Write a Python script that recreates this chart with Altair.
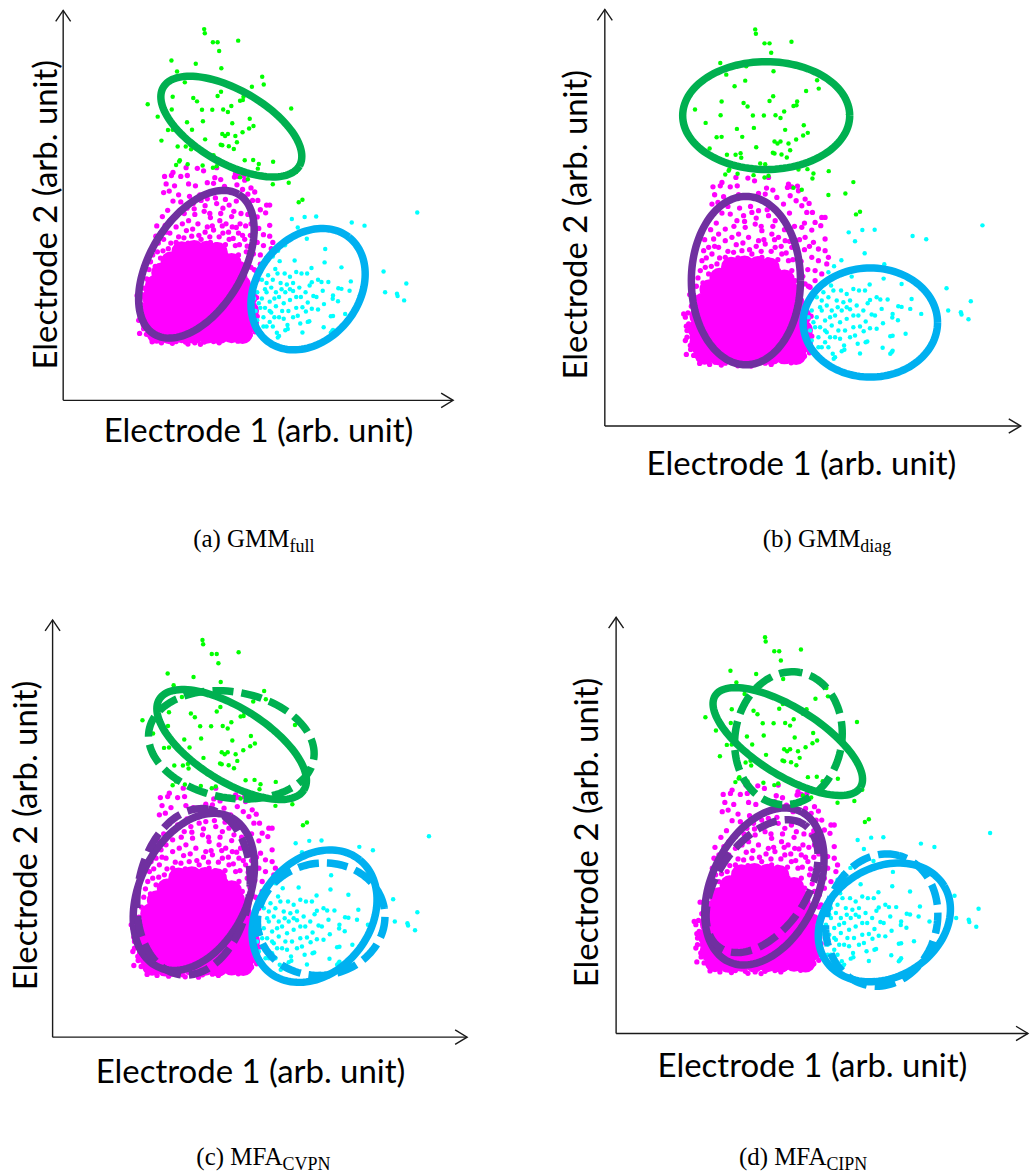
import math
import altair as alt
import pandas as pd

# ---------------- data (arbitrary units; arrows run 0..X_END / 0..Y_END) ----------------
X_END = 1250
Y_END = 1252

green_pts = [(452,1192),(454,1179),(480,1150),(495,1150),(561,1155),(500,1122),(347,1091),(365,1056),
             (507,1066),(422,1038),(390,1021),(638,1039),(643,1014),(605,1007),(351,975),(417,971),
             (429,960),(495,977),(506,991),(567,962),(578,975),(576,964),(271,951),(348,934),(445,933),
             (478,933),(513,934),(528,926),(539,945),(303,911),(598,904),(397,893),(448,896),(542,890),
             (336,868),(351,869),(413,869),(610,881),(596,873),(575,861),(510,855),(519,849),(528,855),
             (552,849),(315,834),(455,838),(557,829),(367,815),(393,815),(408,820),(410,806),(505,821),
             (510,819),(531,816),(547,807),(467,789),(482,787),(374,771),(372,767),(362,756),(399,758),
             (447,754),(480,747),(492,752),(582,771),(609,772),(627,759),(624,744),(673,766),(747,733),
             (723,699),(672,694),(592,710),(767,644),(755,636),(425,1081),(731,937),(567,716)]

cyan_pts = [(1135,603),(733,582),(774,589),(811,590),(925,571),(966,561),(752,555),(781,519),(711,498),
            (840,486),(689,480),(742,449),(796,425),(838,443),(892,427),(1027,414),(1100,375),(1032,347),
            (1070,342),(1072,335),(1093,321),(951,337),(922,382),(918,352),(882,360),(892,358),(865,337),
            (864,326),(881,318),(904,277),(865,271),(858,270),(836,309),(817,292),(797,294),(778,285),
            (835,235),(865,226),(858,217),(767,218),(789,254),(760,247),(752,272),(719,242),(712,225),
            (692,207),(685,217),(828,380),(850,380),(817,387),(797,379),(790,369),(802,335),(812,332),
            (832,352),(784,314),(767,299),(762,332),(747,332),(737,351),(727,322),(722,287),(702,287),
            (677,267),(662,252),(652,237),(710,407),(727,397),(747,412),(764,407),(782,407),(717,372),
            (737,377),(757,362),(700,357),(687,407),(672,387),(652,377),(647,357),(637,327),(632,297),
            (647,297),(662,317),(677,327),(692,332),(707,312),(682,302),(667,282),(642,267),(627,312),
            (622,347),(637,387),(657,402),(680,422),(694,447),(672,462),(652,347),(667,362),(682,347),
            (697,377),(712,347),(727,357),(662,287),(692,267),(707,262),(737,267),(747,297),(777,347),
            (612,327),(617,287),(622,257),(642,237),(672,237),(720,229),(784,252),(862,222),(688,202)]

magenta_sparse = [(325,719),(347,722),(377,719),(398,722),(430,745),(450,737),(486,715),(492,747),(505,709),
                  (549,717),(562,719),(579,721),(602,682),(614,669),(330,695),(340,672),(322,667),(357,689),
                  (402,695),(424,689),(462,699),(482,697),(517,687),(537,667),(557,692),(575,677),(592,662),
                  (624,642),(632,612),(652,627),(662,627),(649,602),(622,589),(602,567),(627,552),(642,532),
                  (662,527),(672,507),(667,487),(642,497),(622,507),(632,467),(652,457),(632,437),(617,417),
                  (602,427),(622,387),(662,562),(592,597),(607,642),(377,637),(397,617),(417,632),(442,642),
                  (462,647),(492,632),(512,617),(532,627),(547,607),(422,597),(452,607),(472,587),(502,577),
                  (522,567),(542,557),(562,537),(362,592),(342,577),(327,562),(312,537),(297,527),(292,497),
                  (287,467),(302,477),(322,517),(342,537),(362,557),(382,567),(402,577),(432,567),(462,557),
                  (482,547),(512,537),(532,517),(552,497),(562,467),(547,447),(522,467),(502,487),(472,507),
                  (442,517),(412,527),(387,522),(362,507),(337,487),(312,457),(392,487),(422,477),(462,472),
                  (492,457),(522,437),(567,567),(582,517),(587,477),(572,437),(237,337),(242,327),(252,307),
                  (247,287),(262,267),(242,257),(257,242),(272,227),(267,212),(282,202),(302,197),(247,267),
                  (262,297),(272,327),(332,192),(362,189),(392,187),(422,185),(452,187),(482,189),(512,195),
                  (542,199),(572,207),(592,227),(602,267),(607,297),(587,367),(592,337),(602,317),(582,397),
                  (352,732),(394,747),(552,727),(582,707),
                  (300,560),(318,590),(335,610),(352,640),(370,660),(388,600),(405,655),(420,615),(438,660),
                  (455,625),(470,600),(488,650),(505,600),(520,645),(540,590),(555,640),(570,600),(585,560),
                  (600,610),(615,540),(295,430),(305,505),(320,480),(330,540),(345,505),(355,470),(370,525),
                  (375,490),(395,545),(400,505),(415,550),(425,500),(435,530),(450,490),(455,540),(470,525),
                  (478,560),(490,500),(500,525),(510,560),(520,500),(530,540),(545,520),(555,555),(565,500),
                  (575,530),(590,495),(600,530),(610,470),(595,450),(612,420),(615,380),(605,350),(620,330),
                  (610,300),(622,270),(612,240),(600,210),(260,360),(268,390),(275,420),(280,445),(255,395),
                  (250,340),(245,300),(258,230),(245,215),(285,188),(315,185),(350,183),(400,181),(440,180),
                  (500,185),(560,190),(590,200),(615,220)]

magenta_core = [(300,215),(340,213),(380,216),(420,214),(460,215),(500,213),(540,216),(575,214),
                (285,250),(325,252),(365,249),(405,251),(445,250),(485,252),(525,249),(565,251),(595,250),
                (280,290),(320,291),(360,289),(400,290),(440,292),(480,289),(520,291),(560,290),(595,288),
                (285,330),(325,329),(365,331),(405,330),(445,328),(485,331),(525,330),(565,329),(590,331),
                (295,370),(335,372),(375,369),(415,371),(455,370),(495,368),(535,371),(570,370),
                (315,410),(355,409),(395,411),(435,410),(475,412),(515,409),(550,411),
                (345,445),(385,447),(425,444),(465,446),(505,445),(540,440),
                (380,478),(420,482),(460,480),(495,476)]

# ellipses: (panel, cluster, dashed, cx, cy, semi-axis a, semi-axis b, angle deg)
ellipses = [
    ("a", "green", 0, 539, 879, 252, 117, -30), ("a", "purple", 0, 427, 437, 262, 148, 59),
    ("a", "blue", 0, 785, 357, 212, 163, 52),
    ("b", "green", 0, 485, 933, 251, 162, 0), ("b", "purple", 0, 424, 437, 164, 253, 0),
    ("b", "blue", 0, 798, 311, 202, 164, 0),
    ("c", "green", 0, 540, 878, 257, 110, -32), ("c", "green", 1, 539, 877, 252, 159, -10),
    ("c", "purple", 0, 426, 436, 250, 163, 64), ("c", "purple", 1, 425, 436, 252, 168, 80),
    ("c", "blue", 0, 790, 363, 217, 167, 51), ("c", "blue", 1, 810, 354, 193, 168, 10),
    ("d", "green", 0, 521, 878, 260, 101, -32), ("d", "green", 1, 523, 888, 201, 162, 80),
    ("d", "purple", 0, 450, 442, 251, 160, 64), ("d", "purple", 1, 443, 443, 225, 135, 55),
    ("d", "blue", 0, 814, 334, 212, 165, 31), ("d", "blue", 1, 806, 341, 201, 168, 75),
]

captions = {"a": ("(a) GMM", "full"), "b": ("(b) GMM", "diag"),
            "c": ("(c) MFA", "CVPN"), "d": ("(d) MFA", "CIPN")}
AXIS_X_TITLE = "Electrode 1 (arb. unit)"
AXIS_Y_TITLE = "Electrode 2 (arb. unit)"

# ---------------- layout (page pixels) ----------------
LAYOUT = {
    "a": dict(frame=(0, 0, 560, 590), origin=(63.3, 400.0), xend=454.0, yend=9.3,
              ytitle=(56.7, 214), xtitle=(259, 442), cap=(290, 547)),
    "b": dict(frame=(560, 0, 471, 590), origin=(606.0, 425.7), xend=1022.7, yend=8.3,
              ytitle=(588.0, 224), xtitle=(803, 475), cap=(862, 547)),
    "c": dict(frame=(0, 590, 560, 585), origin=(52.7, 1038.0), xend=468.0, yend=620.0,
              ytitle=(36.7, 836), xtitle=(251, 1084), cap=(283, 1166)),
    "d": dict(frame=(560, 590, 471, 585), origin=(617.3, 1034.3), xend=1030.0, yend=617.3,
              ytitle=(599.3, 833), xtitle=(814, 1078), cap=(828, 1166)),
}
COLORS = alt.Scale(domain=["green", "purple", "blue"], range=["#00B050", "#7030A0", "#00B0F0"])
SANS = "Lato"
SERIF = "Liberation Serif"
AXIS_COLOR = "#1a1a1a"


def pts_df(pts):
    return pd.DataFrame({"x": [p[0] for p in pts], "y": [p[1] for p in pts]})


def ellipse_df(key):
    rows = []
    for j, (pk, cl, dashed, cx, cy, a, b, ang) in enumerate(ellipses):
        if pk != key:
            continue
        phi = math.radians(ang)
        for k in range(0, 361, 3):
            t = math.radians(k)
            x = cx + a * math.cos(t) * math.cos(phi) - b * math.sin(t) * math.sin(phi)
            y = cy + a * math.cos(t) * math.sin(phi) + b * math.sin(t) * math.cos(phi)
            rows.append({"id": j, "cluster": cl, "dashed": dashed, "i": k, "x": x, "y": y})
    return pd.DataFrame(rows)


def panel(key):
    g = LAYOUT[key]
    fx, fy, fw, fh = g["frame"]
    ox, oy = g["origin"]
    kx = X_END / (g["xend"] - ox)
    ky = Y_END / (oy - g["yend"])
    lx, ly = ox - fx, oy - fy
    xs = alt.Scale(domain=[-lx * kx, (fw - lx) * kx], nice=False, zero=False)
    ys = alt.Scale(domain=[-(fh - ly) * ky, ly * ky], nice=False, zero=False)
    X = lambda f="x": alt.X(f, type="quantitative", scale=xs, axis=None)
    Y = lambda f="y": alt.Y(f, type="quantitative", scale=ys, axis=None)

    def dots(pts, color, size):
        return alt.Chart(pts_df(pts)).mark_circle(size=size, color=color, opacity=1).encode(x=X(), y=Y())

    layers = [dots(magenta_core, "#FF00FF", 420), dots(magenta_sparse, "#FF00FF", 28),
              dots(cyan_pts, "#00FFFF", 20), dots(green_pts, "#00FF00", 20)]

    edf = ellipse_df(key)
    for dashed in (0, 1):
        sub = edf[edf["dashed"] == dashed]
        if len(sub) == 0:
            continue
        mk = dict(strokeWidth=7.5)
        if dashed:
            mk["strokeDash"] = [21, 8]
        layers.append(alt.Chart(sub).mark_line(**mk).encode(
            x=X(), y=Y(), detail="id:N", order=alt.Order("i:Q"),
            color=alt.Color("cluster:N", scale=COLORS, legend=None)))

    axes = pd.DataFrame({"x": [0, 0], "y": [0, 0], "x2": [X_END, 0], "y2": [0, Y_END]})
    layers.append(alt.Chart(axes).mark_rule(color=AXIS_COLOR, strokeWidth=1.4).encode(
        x=X(), y=Y(), x2="x2:Q", y2="y2:Q"))
    layers.append(alt.Chart(pd.DataFrame({"x": [X_END], "y": [0]})).mark_point(
        shape="M-1,-0.6L0,0L-1,0.6", size=576, filled=False, color=AXIS_COLOR, strokeWidth=1.4,
        opacity=1).encode(x=X(), y=Y()))
    layers.append(alt.Chart(pd.DataFrame({"x": [0], "y": [Y_END]})).mark_point(
        shape="M-0.68,1L0,0L0.68,1", size=484, filled=False, color=AXIS_COLOR, strokeWidth=1.4,
        opacity=1).encode(x=X(), y=Y()))

    # axis titles
    xt = pd.DataFrame({"x": [(g["xtitle"][0] - ox) * kx], "y": [-(g["xtitle"][1] - oy) * ky],
                       "t": [AXIS_X_TITLE]})
    layers.append(alt.Chart(xt).mark_text(font=SANS, fontSize=33, align="center",
                                          baseline="alphabetic", color="black").encode(
        x=X(), y=Y(), text="t:N"))
    yt = pd.DataFrame({"x": [(g["ytitle"][0] - ox) * kx], "y": [(oy - g["ytitle"][1]) * ky],
                       "t": [AXIS_Y_TITLE]})
    layers.append(alt.Chart(yt).mark_text(font=SANS, fontSize=33, align="center", angle=270,
                                          baseline="alphabetic", color="black").encode(
        x=X(), y=Y(), text="t:N"))

    # caption with subscript
    main, sub = captions[key]
    cx_, cb = g["cap"]
    cm = pd.DataFrame({"x": [(cx_ - ox) * kx], "y": [-(cb - oy) * ky], "t": [main]})
    layers.append(alt.Chart(cm).mark_text(font=SERIF, fontSize=25, align="right",
                                          baseline="alphabetic", color="black").encode(
        x=X(), y=Y(), text="t:N"))
    cs = pd.DataFrame({"x": [(cx_ - ox) * kx], "y": [-(cb + 5 - oy) * ky], "t": [sub]})
    layers.append(alt.Chart(cs).mark_text(font=SERIF, fontSize=18, align="left",
                                          baseline="alphabetic", color="black").encode(
        x=X(), y=Y(), text="t:N"))

    return alt.layer(*layers).properties(width=fw, height=fh)


chart = alt.concat(panel("a"), panel("b"), panel("c"), panel("d"), columns=2,
                   spacing=0, bounds="flush").properties(
    padding=0, background="white").configure_view(stroke=None)

chart.save("out.html", embed_options={"renderer": "svg", "actions": False})
